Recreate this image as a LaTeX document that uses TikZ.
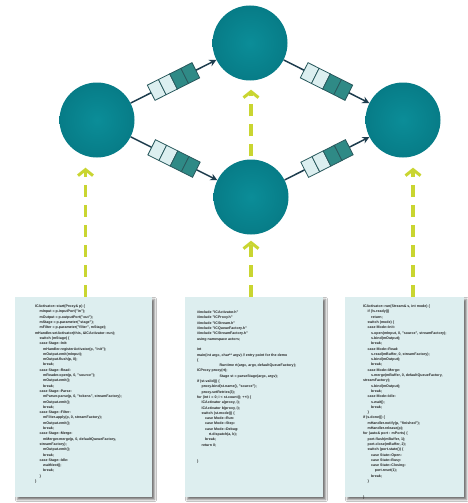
\documentclass[tikz,border=0pt]{standalone}
\usepackage{fontspec}
\setmainfont{Liberation Sans}
\usetikzlibrary{arrows.meta,shadows.blur}

\definecolor{actorin}{HTML}{0B8D98}
\definecolor{actorout}{HTML}{077C87}
\definecolor{linkcol}{HTML}{1E3D4E}
\definecolor{qlight}{HTML}{DCEFF0}
\definecolor{qdark}{HTML}{2F8A86}
\definecolor{qline}{HTML}{2A5A5E}
\definecolor{hook}{HTML}{C9D531}
\definecolor{paper}{HTML}{DDEEEF}
\definecolor{papershade}{HTML}{8F9A9D}

\newcommand\ci[1]{\hspace*{#1em}}

\tikzset{
  actor/.style={circle, minimum size=75pt, inner sep=0pt,
    inner color=actorin, outer color=actorout},
  link/.style={draw=linkcol, line width=1.5pt,
    -{Stealth[length=7pt,width=7pt]}},
  queue/.pic={
    \foreach \i/\c in {0/qlight,1/qlight,2/qdark,3/qdark}
      \filldraw[-, fill=\c, draw=qline, line width=0.8pt]
        (-25+12.5*\i,-8.5) rectangle (-12.5+12.5*\i,8.5);
  },
  hookarrow/.style={draw=hook, line width=3.6pt, dash pattern=on 12pt off 8pt,
    -{Straight Barb[length=6pt,width=15pt,line width=3pt]}},
  sheet/.style={rectangle, fill=paper, inner sep=0pt, minimum height=200pt,
    blur shadow={shadow xshift=2.5pt, shadow yshift=-2.5pt,
      shadow blur steps=4, shadow opacity=55}},
  code/.style={anchor=north west, align=left, inner sep=0pt,
    font=\fontsize{3.6}{5.3}\selectfont\bfseries, text=black!85},
}

\begin{document}
\begin{tikzpicture}[x=1pt,y=1pt]
\useasboundingbox[fill=white] (0,0) rectangle (468,-503);

% actors
\node[actor] (T) at (250,-43)  {};
\node[actor] (L) at (97,-120)  {};
\node[actor] (R) at (403,-120) {};
\node[actor] (B) at (251,-197) {};

% message channels with their queues
\draw[link] (L) -- pic[pos=.5, sloped]{queue} (T);
\draw[link] (T) -- pic[pos=.5, sloped]{queue} (R);
\draw[link] (L) -- pic[pos=.5, sloped]{queue} (B);
\draw[link] (B) -- pic[pos=.5, sloped]{queue} (R);

% source sheets
\node[sheet, minimum width=137pt] (DL) at (83.5,-397) {};
\node[sheet, minimum width=138pt] (DM) at (254,-397)  {};
\node[sheet, minimum width=119pt] (DR) at (404.5,-397) {};

% code on the sheets
\node[code] (CL) at ([xshift=20pt,yshift=-8pt]DL.north west) {%
ICActivator::start(Proxy\& p) \{\\
\ci1 mInput = p.inputPort("in");\\
\ci1 mOutput = p.outputPort("out");\\
\ci1 mStage = p.parameter("stage");\\
\ci1 mFilter = p.parameter("filter", mStage);\\
mHandler.setActivator(this, \&ICActivator::run);\\
\ci1 switch (mStage) \{\\
\ci1 case Stage::Init:\\
\ci2 mHandler.registerActivator(p, "init");\\
\ci2 mOutput.emit(mInput);\\
\ci2 mOutput.flush(p, 0);\\
\ci2 break;\\
\ci1 case Stage::Read:\\
\ci2 mReader.open(p, 0, "source");\\
\ci2 mOutput.emit();\\
\ci2 break;\\
\ci1 case Stage::Parse:\\
\ci2 mParser.parse(p, 0, "tokens", streamFactory);\\
\ci2 mOutput.emit();\\
\ci2 break;\\
\ci1 case Stage::Filter:\\
\ci2 mFilter.apply(p, 0, streamFactory);\\
\ci2 mOutput.emit();\\
\ci2 break;\\
\ci1 case Stage::Merge:\\
\ci2 mMerger.merge(p, 0, defaultQueueFactory,\\
\ci1 streamFactory);\\
\ci2 mOutput.emit();\\
\ci2 break;\\
\ci1 case Stage::Idle:\\
\ci2 waitNext();\\
\ci2 break;\\
\ci1 \}\\
\}};

\node[code] (CM) at ([xshift=12pt,yshift=-14pt]DM.north west) {%
\#include "ICActivator.h"\\
\#include "ICProxy.h"\\
\#include "ICStream.h"\\
\#include "ICQueueFactory.h"\\
\#include "ICStreamFactory.h"\\
using namespace actors;\\[5.3pt]
int\\
main(int argc, char** argv) // entry point for the demo\\
\{\\
\ci6 Runtime rt(argc, argv, defaultQueueFactory);\\
ICProxy proxy(rt);\\
\ci6 Stage st = parseStage(argc, argv);\\
if (st.valid()) \{\\
\ci1 proxy.bind(st.name(), "source");\\
\ci1 proxy.setRetries(3);\\
for (int i = 0; i < st.count(); ++i) \{\\
\ci1 ICActivator a(proxy, i);\\
\ci1 ICActivator b(proxy, i);\\
\ci1 switch (st.mode()) \{\\
\ci2 case Mode::Run:\\
\ci2 case Mode::Step:\\
\ci2 case Mode::Debug:\\
\ci3 rt.dispatch(a, b);\\
\ci2 break;\\
\ci1 return 0;\\[10.6pt]
\}};

\node[code] (CR) at ([xshift=18pt,yshift=-8pt]DR.north west) {%
ICActivator::run(Stream\& s, int mode) \{\\
\ci1 if (!s.ready())\\
\ci2 return;\\
\ci1 switch (mode) \{\\
\ci1 case Mode::Init:\\
\ci2 s.open(mInput, 0, "source", streamFactory);\\
\ci2 s.bind(mOutput);\\
\ci2 break;\\
\ci1 case Mode::Read:\\
\ci2 s.read(mBuffer, 0, streamFactory);\\
\ci2 s.bind(mOutput);\\
\ci2 break;\\
\ci1 case Mode::Merge:\\
\ci2 s.merge(mBuffer, 0, defaultQueueFactory,\\
streamFactory);\\
\ci2 s.bind(mOutput);\\
\ci2 break;\\
\ci1 case Mode::Idle:\\
\ci2 s.wait();\\
\ci2 break;\\
\ci1 \}\\
if (s.done()) \{\\
\ci1 mHandler.notify(p, "finished");\\
\ci1 mHandler.release(p);\\
for (auto\& port : mPorts) \{\\
\ci1 port.flush(mBuffer, 1);\\
\ci1 port.close(mBuffer, 2);\\
\ci1 switch (port.state()) \{\\
\ci2 case State::Open:\\
\ci2 case State::Busy:\\
\ci2 case State::Closing:\\
\ci3 port.reset(1);\\
\ci2 break;\\
\ci1 \}\\[10.6pt]
\}};

% deployment hooks from sheets to actors
\draw[hookarrow, shorten >=10pt]
  ([xshift=2pt]DL.north) -- ([xshift=2pt]DL.north |- L.south);
\draw[hookarrow, shorten >=6pt]
  (B.south |- DM.north) -- (B.south);
\draw[hookarrow, shorten <=3pt, shorten >=9pt]
  (B.north) -- (B.north |- T.south);
\draw[hookarrow, shorten >=10pt]
  ([xshift=8.5pt]DR.north) -- ([xshift=8.5pt]DR.north |- R.south);
\end{tikzpicture}
\end{document}
